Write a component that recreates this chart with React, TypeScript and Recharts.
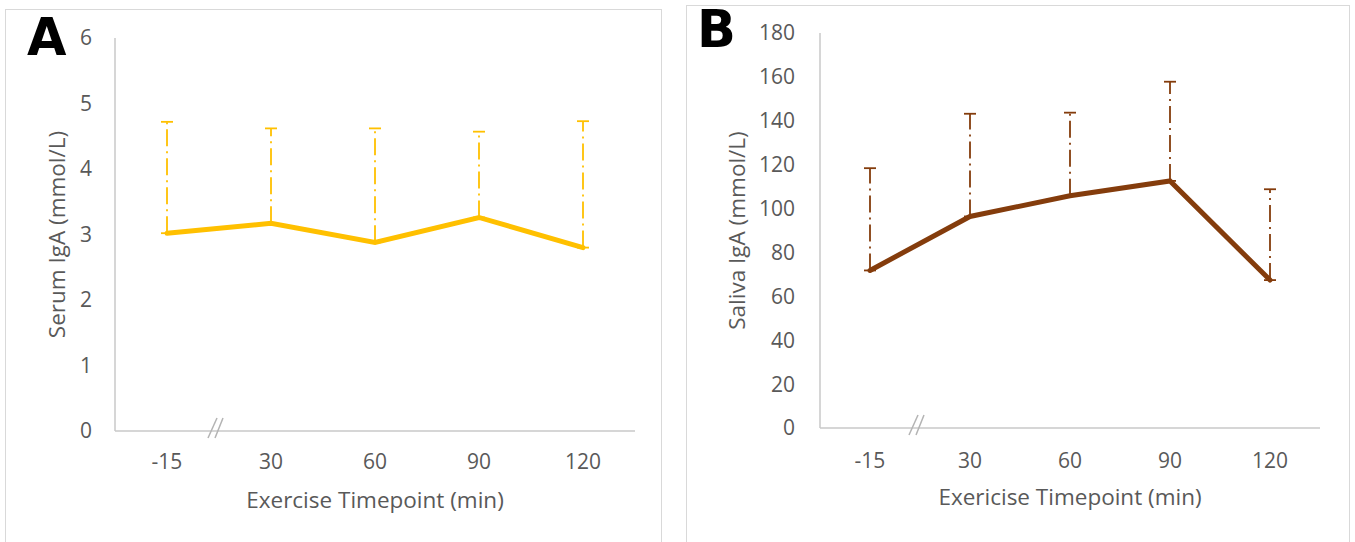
import { LineChart, Line, XAxis, YAxis, ErrorBar } from "recharts";

const timepoints = ["-15", "30", "60", "90", "120"];

const serumMean = [3.02, 3.17, 2.88, 3.26, 2.8];
const serumUpper = [4.72, 4.62, 4.62, 4.57, 4.73];
const serumTicks = [0, 1, 2, 3, 4, 5, 6];

const salivaMean = [71.8, 96.4, 105.8, 112.6, 67.4];
const salivaUpper = [118.4, 143.2, 143.7, 157.8, 108.8];
const salivaTicks = [0, 20, 40, 60, 80, 100, 120, 140, 160, 180];

const FONT = "'Open Sans', sans-serif";
const TEXT = "#595959";
const AXIS = "#c8c8c8";
const TICK_SIZE = 21;
const TITLE_SIZE = 22.5;

// only the upper half of the SD is shown, so the lower error is 0
const buildRows = (mean: number[], upper: number[]) =>
  timepoints.map((t, i) => ({
    time: t,
    mean: mean[i],
    err: [0, +(upper[i] - mean[i]).toFixed(2)],
  }));

const serumRows = buildRows(serumMean, serumUpper);
const salivaRows = buildRows(salivaMean, salivaUpper);

function makeTick(margin: number) {
  return function TimeTick(props: any) {
    const { x, y, payload, index } = props;
    const half = payload?.offset ?? 50;
    const ay = y - margin; // axis line
    const bx = x + half - 4;
    return (
      <g>
        <text
          x={x}
          y={y}
          dy="0.71em"
          textAnchor="middle"
          fill={TEXT}
          fontSize={TICK_SIZE}
          fontFamily={FONT}
        >
          {payload.value}
        </text>
        {index === 0 && (
          <g stroke="#b4b4b4" strokeWidth={1.5}>
            <line x1={bx - 7} y1={ay + 7} x2={bx + 2} y2={ay - 13} />
            <line x1={bx} y1={ay + 7} x2={bx + 8} y2={ay - 13} />
          </g>
        )}
      </g>
    );
  };
}

interface PanelProps {
  rows: Array<{ time: string; mean: number; err: number[] }>;
  color: string;
  ticks: number[];
  yTitle: string;
  xTitle: string;
  width: number;
  top: number;
  right: number;
  yAxisWidth: number;
  xAxisHeight: number;
  yTickMargin: number;
  xTickMargin: number;
  xTitleOffset: number;
}

function Panel(p: PanelProps) {
  return (
    <LineChart
      width={p.width}
      height={542}
      data={p.rows}
      margin={{ top: p.top, right: p.right, left: 0, bottom: 0 }}
    >
      <XAxis
        dataKey="time"
        scale="band"
        height={p.xAxisHeight}
        tickLine={false}
        tickSize={0}
        tickMargin={p.xTickMargin}
        stroke={AXIS}
        strokeWidth={1.5}
        tick={makeTick(p.xTickMargin)}
        label={{
          value: p.xTitle,
          position: "insideBottom",
          offset: p.xTitleOffset,
          fill: TEXT,
          fontSize: TITLE_SIZE,
          fontFamily: FONT,
        }}
      />
      <YAxis
        width={p.yAxisWidth}
        domain={[p.ticks[0], p.ticks[p.ticks.length - 1]]}
        ticks={p.ticks}
        interval={0}
        tickLine={false}
        tickSize={0}
        tickMargin={p.yTickMargin}
        stroke={AXIS}
        strokeWidth={1.5}
        tick={{ fill: TEXT, fontSize: TICK_SIZE, fontFamily: FONT }}
        label={{
          value: p.yTitle,
          angle: -90,
          position: "insideLeft",
          offset: 57,
          fill: TEXT,
          fontSize: TITLE_SIZE,
          fontFamily: FONT,
          style: { textAnchor: "middle" },
        }}
      />
      <Line
        dataKey="mean"
        stroke={p.color}
        strokeWidth={5}
        strokeLinecap="round"
        dot={false}
        activeDot={false}
        isAnimationActive={false}
      >
        <ErrorBar
          dataKey="err"
          direction="y"
          width={6}
          stroke={p.color}
          strokeWidth={1.8}
          strokeDasharray="17 5 2 5"
          isAnimationActive={false}
        />
      </Line>
    </LineChart>
  );
}

export default function App() {
  return (
    <div
      style={{
        position: "absolute",
        left: 0,
        top: 0,
        width: 1355,
        height: 542,
        overflow: "hidden",
        background: "#fff",
      }}
    >
      <div
        style={{
          position: "absolute",
          left: 5,
          top: 9,
          width: 655,
          height: 600,
          border: "1.5px solid #d9d9d9",
        }}
      />
      <div
        style={{
          position: "absolute",
          left: 686,
          top: 5,
          width: 662,
          height: 600,
          border: "1.5px solid #d9d9d9",
        }}
      />
      <div style={{ position: "absolute", left: 0, top: 0 }}>
        <Panel
          rows={serumRows}
          color="#FFC000"
          ticks={serumTicks}
          yTitle="Serum IgA (mmol/L)"
          xTitle="Exercise Timepoint (min)"
          width={661}
          top={38}
          right={26}
          yAxisWidth={115}
          xAxisHeight={111}
          yTickMargin={23}
          xTickMargin={23}
          xTitleOffset={34}
        />
      </div>
      <div style={{ position: "absolute", left: 680, top: 0 }}>
        <Panel
          rows={salivaRows}
          color="#843C0C"
          ticks={salivaTicks}
          yTitle="Saliva IgA (mmol/L)"
          xTitle="Exericise Timepoint (min)"
          width={670}
          top={33}
          right={30}
          yAxisWidth={140}
          xAxisHeight={114}
          yTickMargin={25}
          xTickMargin={25}
          xTitleOffset={37}
        />
      </div>
      <svg
        width={1355}
        height={542}
        style={{ position: "absolute", left: 0, top: 0, pointerEvents: "none" }}
      >
        <text x={27} y={55} fontFamily="'DejaVu Sans', sans-serif" fontWeight="bold" fontSize={51} fill="#000">
          A
        </text>
        <text x={697} y={47} fontFamily="'DejaVu Sans', sans-serif" fontWeight="bold" fontSize={51} fill="#000">
          B
        </text>
      </svg>
    </div>
  );
}
